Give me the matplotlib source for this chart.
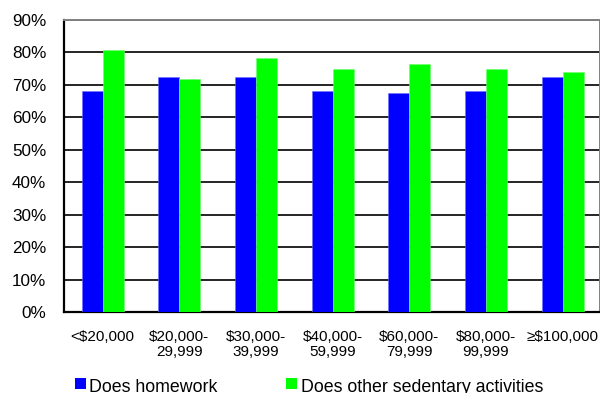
import matplotlib
matplotlib.use("Agg")
import matplotlib.pyplot as plt
from matplotlib.patches import Rectangle
import numpy as np

plt.rcParams['font.family'] = ['Liberation Sans', 'DejaVu Sans']

categories = ["<$20,000", "$20,000-\n29,999", "$30,000-\n39,999", "$40,000-\n59,999",
              "$60,000-\n79,999", "$80,000-\n99,999", "\u2265$100,000"]
homework = [68.1, 72.3, 72.3, 68.1, 67.4, 68.1, 72.3]
sedentary = [80.9, 71.7, 78.4, 74.8, 76.6, 74.8, 74.1]
series_names = ["Does homework", "Does other sedentary activities"]
colors = ["#0000FF", "#00FF00"]
yticks = [0, 10, 20, 30, 40, 50, 60, 70, 80, 90]

fig = plt.figure(figsize=(6.0, 3.93), dpi=100)
ax = fig.add_axes([64.4 / 600, 80.7 / 393, (599.5 - 64.4) / 600, (312.3 - 20) / 393])

x = np.arange(len(categories))
w = 0.275
ax.bar(x - w / 2, homework, width=w, color=colors[0], edgecolor="#6f6fff", linewidth=0.4, zorder=3)
ax.bar(x + w / 2, sedentary, width=w, color=colors[1], edgecolor="#6fff6f", linewidth=0.4, zorder=3)

ax.set_xlim(-0.5, 6.48)
ax.set_ylim(0, 90)
ax.set_yticks(yticks)
ax.set_yticklabels([f"{t}%" for t in yticks], fontsize=12.3)
ax.set_xticks(x)
ax.set_xticklabels(categories, fontsize=11, linespacing=1.1)
ax.tick_params(axis='y', length=0, pad=13)
ax.tick_params(axis='x', length=0, pad=13)

ax.yaxis.grid(True, color="black", linewidth=1.2, zorder=0)
ax.set_axisbelow(True)
for s in ["left", "bottom"]:
    ax.spines[s].set_color("black")
    ax.spines[s].set_linewidth(1.6)
for s in ["top", "right"]:
    ax.spines[s].set_color("#808080")
    ax.spines[s].set_linewidth(1.4)

# legend
leg_x = [75, 286]
txt_x = [89.3, 300.7]
for i in range(2):
    fig.patches.append(Rectangle((leg_x[i] / 600, (393 - 389.3) / 393), 11 / 600, 11 / 393,
                                 transform=fig.transFigure, facecolor=colors[i], edgecolor="none"))
    fig.text(txt_x[i] / 600, 1.3 / 393, series_names[i], fontsize=12.8, ha="left", va="baseline")

fig.savefig("out.png", dpi=100)
